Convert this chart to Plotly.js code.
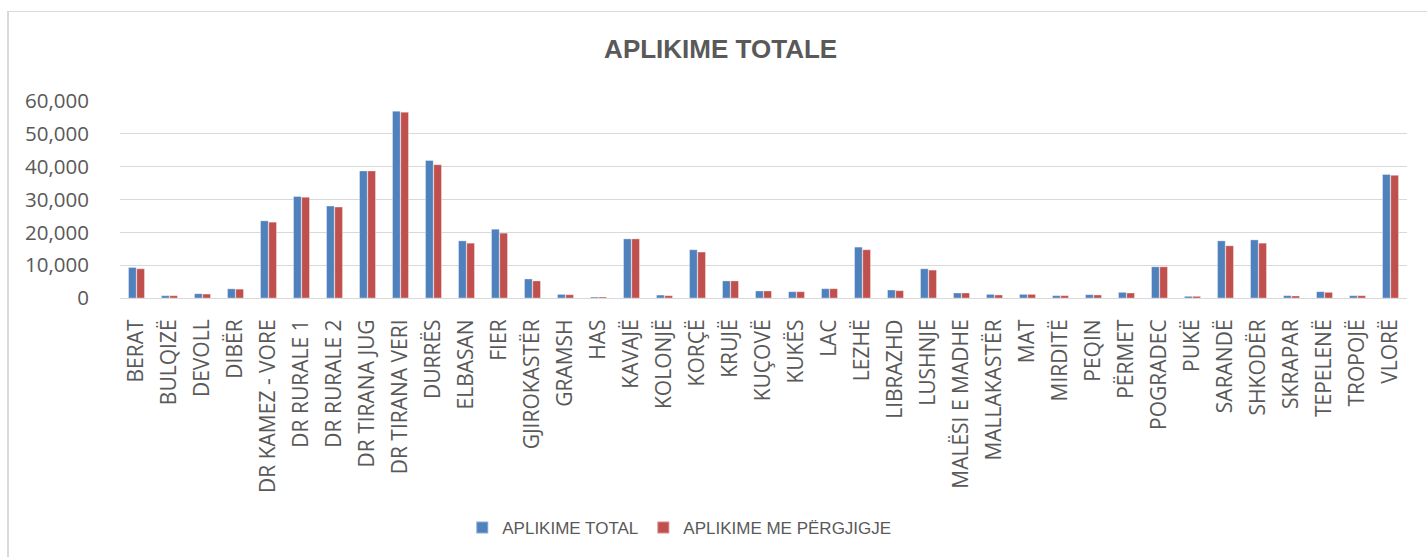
<!DOCTYPE html>
<html>
<head>
<meta charset="utf-8">
<script src="https://cdn.plot.ly/plotly-3.0.1.min.js"></script>
<style>
  html, body { margin: 0; padding: 0; background: #fff; overflow: hidden; }
  #chart { width: 1427px; height: 557px; }
  #frame { position: absolute; left: 7px; top: 11px; width: 1440px; height: 560px;
           border-left: 2px solid #d9d9d9; border-top: 1px solid #d9d9d9; pointer-events: none; }
</style>
</head>
<body>
<div id="chart"></div>
<div id="frame"></div>
<script>
const categories = ["BERAT","BULQIZË","DEVOLL","DIBËR","DR KAMEZ - VORE","DR RURALE 1","DR RURALE 2","DR TIRANA JUG","DR TIRANA VERI","DURRËS","ELBASAN","FIER","GJIROKASTËR","GRAMSH","HAS","KAVAJË","KOLONJË","KORÇË","KRUJË","KUÇOVË","KUKËS","LAC","LEZHË","LIBRAZHD","LUSHNJE","MALËSI E MADHE","MALLAKASTËR","MAT","MIRDITË","PEQIN","PËRMET","POGRADEC","PUKË","SARANDË","SHKODËR","SKRAPAR","TEPELENË","TROPOJË","VLORË"];
const aplikimeTotal = [9300,700,1300,2800,23500,30900,28000,38700,56900,41900,17400,20950,5800,1100,300,18000,900,14700,5200,2130,1920,2830,15500,2430,8900,1520,1110,1110,710,1010,1720,9500,510,17400,17700,710,1920,710,37650];
const aplikimeMePergjigje = [8900,700,1200,2700,23100,30700,27700,38700,56600,40600,16700,19750,5200,1000,300,18000,700,14000,5200,2130,1920,2830,14700,2230,8500,1520,910,1110,710,910,1520,9500,510,15900,16700,610,1720,710,37350];
const seriesNames = ["APLIKIME TOTAL", "APLIKIME ME PËRGJIGJE"];
const yTicks = [0,10000,20000,30000,40000,50000,60000];

const traces = [
  { type: 'bar', name: seriesNames[0], x: categories, y: aplikimeTotal,
    marker: { color: '#4f81bd', line: { color: 'rgba(255,255,255,0.35)', width: 1 } } },
  { type: 'bar', name: seriesNames[1], x: categories, y: aplikimeMePergjigje,
    marker: { color: '#c0504d', line: { color: 'rgba(255,255,255,0.35)', width: 1 } } }
];

const layout = {
  width: 1427, height: 557,
  paper_bgcolor: '#ffffff', plot_bgcolor: '#ffffff',
  margin: { l: 120, r: 20, t: 101, b: 259, autoexpand: false },
  title: { text: 'APLIKIME TOTALE', x: 0.505, xanchor: 'center', y: 0.912, yanchor: 'middle',
           font: { family: 'Liberation Sans, Arial, sans-serif', size: 26, color: '#595959', weight: 'bold' } },
  barmode: 'group', bargap: 0.5, bargroupgap: 0.06,
  showlegend: true,
  legend: { orientation: 'h', xref: 'container', yref: 'container', x: 0.476, xanchor: 'center', y: 0.052, yanchor: 'middle',
            font: { family: 'Liberation Sans, Arial, sans-serif', size: 17, color: '#595959' },
            itemsizing: 'constant', traceorder: 'normal', itemwidth: 30 },
  xaxis: { type: 'category', tickangle: -90, showgrid: false, showline: true, linecolor: '#d9d9d9', linewidth: 1,
           ticks: 'outside', ticklen: 12, tickcolor: 'rgba(0,0,0,0)',
           tickfont: { family: 'Open Sans, sans-serif', size: 21, color: '#595959' }, fixedrange: true },
  yaxis: { range: [0, 60000], tickvals: yTicks, tickformat: ',', showgrid: true, gridcolor: '#d9d9d9', gridwidth: 1,
           zeroline: false, showline: false, ticks: 'outside', ticklen: 26, tickcolor: 'rgba(0,0,0,0)',
           tickfont: { family: 'Open Sans, sans-serif', size: 20.5, color: '#595959' }, fixedrange: true },
  font: { family: 'Open Sans, sans-serif', color: '#595959' }
};

Plotly.newPlot('chart', traces, layout, { displayModeBar: false, staticPlot: true });
</script>
</body>
</html>
